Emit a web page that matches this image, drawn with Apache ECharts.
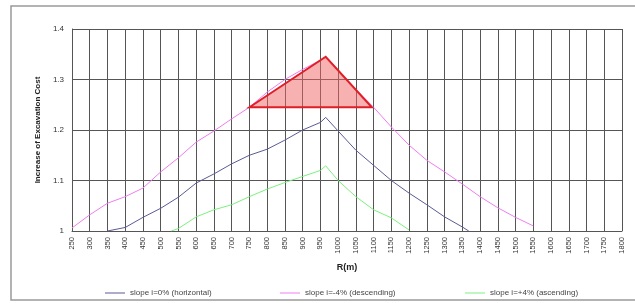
<!DOCTYPE html>
<html>
<head>
<meta charset="utf-8">
<script src="https://cdn.jsdelivr.net/npm/echarts@6/dist/echarts.min.js"></script>
<style>
  html, body { margin: 0; padding: 0; background: #fff; }
  #chart { width: 635px; height: 303px; }
</style>
</head>
<body>
<div id="chart"></div>
<script>
// R(m) values and cost increase
const flatR = [350, 400, 450, 500, 550, 600, 650, 700, 750, 800, 850, 900, 950, 965, 1000, 1050, 1100, 1150, 1200, 1250, 1300, 1350, 1368];
const flatV = [1.0, 1.007, 1.027, 1.045, 1.067, 1.095, 1.113, 1.133, 1.15, 1.162, 1.18, 1.2, 1.215, 1.225, 1.198, 1.16, 1.13, 1.1, 1.075, 1.052, 1.028, 1.008, 1.0];

const descR = [250, 300, 350, 400, 450, 500, 550, 600, 650, 700, 750, 800, 850, 900, 950, 965, 1000, 1050, 1100, 1150, 1200, 1250, 1300, 1350, 1400, 1450, 1500, 1550];
const descV = [1.006, 1.032, 1.055, 1.068, 1.085, 1.117, 1.145, 1.176, 1.198, 1.222, 1.245, 1.275, 1.3, 1.32, 1.338, 1.345, 1.318, 1.28, 1.245, 1.206, 1.17, 1.14, 1.117, 1.093, 1.068, 1.046, 1.027, 1.01];

const ascR = [530, 550, 600, 650, 700, 750, 800, 850, 900, 950, 965, 1000, 1050, 1100, 1150, 1200];
const ascV = [1.0, 1.005, 1.028, 1.042, 1.052, 1.068, 1.083, 1.096, 1.108, 1.12, 1.129, 1.1, 1.068, 1.042, 1.026, 1.002];

// highlighted triangle
const triR = [750, 965, 1095];
const triV = [1.245, 1.345, 1.245];

const seriesNames = ['slope i=0% (horizontal)', 'slope i=-4% (descending)', 'slope i=+4% (ascending)'];

function pairs(xs, ys) {
  return xs.map((x, i) => [x, ys[i]]);
}

const chart = echarts.init(document.getElementById('chart'));
const font = 'Liberation Sans, Arial, sans-serif';

function lineSeries(name, xs, ys, color) {
  return {
    name: name,
    type: 'line',
    data: pairs(xs, ys),
    symbol: 'none',
    smooth: false,
    lineStyle: { color: color, width: 1 },
    itemStyle: { color: color },
    z: 3,
  };
}

chart.setOption({
  animation: false,
  textStyle: { fontFamily: font },
  graphic: [{
    type: 'rect',
    shape: { x: 11, y: 6, width: 640, height: 294 },
    style: { fill: 'none', stroke: '#9a9a9a', lineWidth: 1.5 },
    silent: true,
  }],
  grid: { left: 72, right: 13, top: 29, bottom: 72 },
  legend: [
    { data: [seriesNames[0]], left: 100, top: 284 },
    { data: [seriesNames[1]], left: 275, top: 284 },
    { data: [seriesNames[2]], left: 460, top: 284 },
  ].map(l => Object.assign(l, {
    icon: 'rect', itemWidth: 20, itemHeight: 1, itemGap: 4,
    textStyle: { fontSize: 8, color: '#444', fontFamily: font },
  })),
  xAxis: {
    type: 'value',
    min: 250, max: 1800, interval: 50,
    name: 'R(m)', nameLocation: 'middle', nameGap: 32,
    nameTextStyle: { fontSize: 9, fontWeight: 'bold', color: '#222' },
    axisLine: { show: true, lineStyle: { color: '#555' } },
    axisTick: { show: false },
    axisLabel: { rotate: 90, fontSize: 7.5, color: '#333', margin: 6, showMinLabel: true, showMaxLabel: true,
      formatter: v => String(v) },
    splitLine: { show: true, lineStyle: { color: '#555', width: 1 } },
  },
  yAxis: {
    type: 'value',
    min: 1, max: 1.4, interval: 0.1,
    name: 'Increase of Excavation Cost', nameLocation: 'middle', nameGap: 24,
    nameTextStyle: { fontSize: 8, fontWeight: 'bold', color: '#222' },
    axisLine: { show: true, lineStyle: { color: '#555' } },
    axisTick: { show: false },
    axisLabel: { fontSize: 8, color: '#333', margin: 8,
      formatter: v => (Math.round(v * 10) / 10).toString() },
    splitLine: { show: true, lineStyle: { color: '#555', width: 1 } },
  },
  series: [
    lineSeries(seriesNames[0], flatR, flatV, '#5a5a96'),
    lineSeries(seriesNames[1], descR, descV, '#f07cf0'),
    lineSeries(seriesNames[2], ascR, ascV, '#7cf07c'),
    {
      type: 'custom',
      data: [0],
      z: 5,
      renderItem: (params, api) => ({
        type: 'polygon',
        shape: { points: triR.map((r, i) => api.coord([r, triV[i]])) },
        style: { fill: 'rgba(240,100,100,0.5)', stroke: '#e01e28', lineWidth: 2 },
      }),
    },
  ],
});
</script>
</body>
</html>
